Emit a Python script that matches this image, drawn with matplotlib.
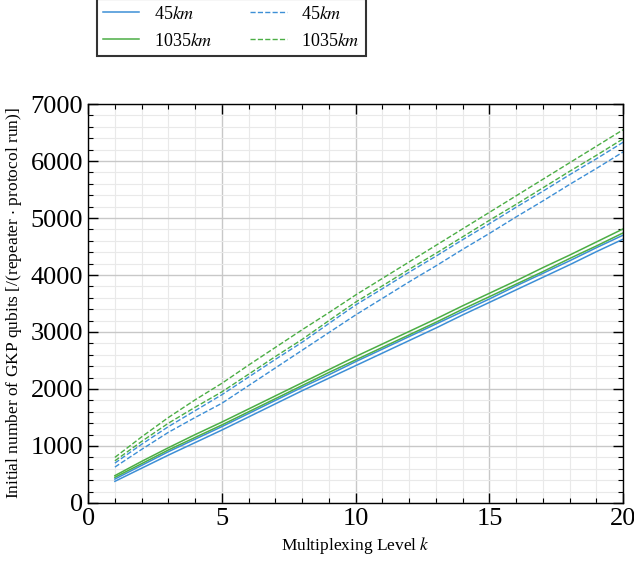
import matplotlib
matplotlib.use("Agg")
import matplotlib.pyplot as plt
from matplotlib.ticker import MultipleLocator

plt.rcParams["font.family"] = ["Liberation Serif", "DejaVu Serif"]
plt.rcParams["mathtext.fontset"] = "stix"

# 复用级别 k
k = list(range(1, 21))

# 实线（四条）
solid_green_1 = [480, 730, 970, 1200, 1420, 1650, 1880, 2110, 2340, 2570,
                 2790, 3010, 3230, 3460, 3680, 3900, 4130, 4350, 4580, 4810]
solid_green_2 = [450, 690, 930, 1150, 1370, 1600, 1830, 2060, 2290, 2510,
                 2730, 2950, 3170, 3400, 3620, 3840, 4060, 4290, 4510, 4740]
solid_blue_1 = [420, 660, 900, 1120, 1340, 1570, 1800, 2030, 2250, 2480,
                2700, 2920, 3140, 3360, 3580, 3810, 4030, 4250, 4480, 4700]
solid_blue_2 = [380, 610, 840, 1060, 1280, 1510, 1740, 1970, 2190, 2410,
                2630, 2850, 3070, 3300, 3520, 3740, 3960, 4180, 4410, 4630]

# 虚线（四条）
dash_green_1 = [800, 1160, 1500, 1810, 2100, 2420, 2730, 3040, 3340, 3650,
                3940, 4230, 4520, 4810, 5100, 5390, 5680, 5970, 6260, 6550]
dash_green_2 = [740, 1080, 1400, 1680, 1950, 2260, 2570, 2870, 3200, 3525,
                3810, 4100, 4380, 4670, 4960, 5240, 5530, 5820, 6100, 6390]
dash_blue_1 = [700, 1030, 1340, 1620, 1900, 2210, 2520, 2820, 3150, 3475,
               3760, 4050, 4330, 4620, 4900, 5190, 5470, 5760, 6040, 6330]
dash_blue_2 = [630, 940, 1240, 1500, 1750, 2060, 2370, 2680, 2990, 3300,
               3590, 3880, 4160, 4450, 4730, 5020, 5300, 5590, 5870, 6160]

blue = "#3d8fd6"
green = "#4cae45"

fig = plt.figure(figsize=(6.34, 5.61), dpi=100)
ax = fig.add_axes([0.139, 0.1034, 0.844, 0.7112])

h1, = ax.plot(k, solid_blue_2, color=blue, lw=1.1)
ax.plot(k, solid_blue_1, color=blue, lw=1.1)
h2, = ax.plot(k, solid_green_1, color=green, lw=1.1)
ax.plot(k, solid_green_2, color=green, lw=1.1)
h3, = ax.plot(k, dash_blue_2, color=blue, lw=1.0, ls="--")
ax.plot(k, dash_blue_1, color=blue, lw=1.0, ls="--")
h4, = ax.plot(k, dash_green_1, color=green, lw=1.0, ls="--")
ax.plot(k, dash_green_2, color=green, lw=1.0, ls="--")

ax.set_xlim(0, 20)
ax.set_ylim(0, 7000)
ax.xaxis.set_major_locator(MultipleLocator(5))
ax.xaxis.set_minor_locator(MultipleLocator(1))
ax.yaxis.set_major_locator(MultipleLocator(1000))
ax.yaxis.set_minor_locator(MultipleLocator(200))

ax.grid(which="major", color="#c8c8c8", lw=1.0)
ax.grid(which="minor", color="#e9e9e9", lw=0.8)
ax.set_axisbelow(True)

ax.tick_params(which="both", direction="in", top=True, right=True)
ax.tick_params(which="major", length=7, width=1.0, labelsize=19)
ax.tick_params(which="minor", length=3.5, width=0.8)
for s in ax.spines.values():
    s.set_linewidth(1.0)

ax.set_xlabel("Multiplexing Level $k$", fontsize=12.5)
ax.set_ylabel("Initial number of GKP qubits [/(repeater $\\cdot$ protocol run)]",
              fontsize=12.5, labelpad=5)

leg = fig.legend([h1, h2, h3, h4],
                 ["45$km$", "1035$km$", "45$km$", "1035$km$"],
                 ncol=2, loc="lower left",
                 bbox_to_anchor=(97 / 634, 1 - 56 / 561),
                 borderaxespad=0, fontsize=13, frameon=True, fancybox=False,
                 handlelength=2.0, handletextpad=0.8, columnspacing=2.1,
                 borderpad=0.35, labelspacing=0.55)
leg.get_frame().set_edgecolor("black")
leg.get_frame().set_linewidth(1.5)

fig.savefig("out.png", dpi=100)
